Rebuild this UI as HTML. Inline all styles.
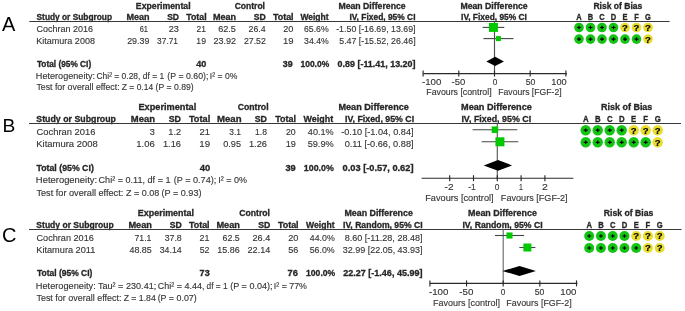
<!DOCTYPE html>
<html><head><meta charset="utf-8"><style>
html,body{margin:0;padding:0;background:#fff;width:685px;height:311px;overflow:hidden}
svg{display:block;font-family:"Liberation Sans", sans-serif;will-change:transform;filter:blur(0.3px)}
</style></head><body>
<svg width="685" height="311" viewBox="0 0 685 311" shape-rendering="auto">
<rect width="685" height="311" fill="#fff"/>
<text x="1.90" y="30.60" font-size="20" fill="#000">A</text>
<text x="135.83" y="9.00" font-size="8.8" font-weight="bold" textLength="54.74" lengthAdjust="spacingAndGlyphs" fill="#262626" stroke="#262626" stroke-width="0.3">Experimental</text>
<text x="234.66" y="9.00" font-size="8.8" font-weight="bold" textLength="30.34" lengthAdjust="spacingAndGlyphs" fill="#262626" stroke="#262626" stroke-width="0.3">Control</text>
<text x="338.43" y="9.00" font-size="8.8" font-weight="bold" textLength="67.23" lengthAdjust="spacingAndGlyphs" fill="#262626" stroke="#262626" stroke-width="0.3">Mean Difference</text>
<text x="460.43" y="9.00" font-size="8.8" font-weight="bold" textLength="67.23" lengthAdjust="spacingAndGlyphs" fill="#262626" stroke="#262626" stroke-width="0.3">Mean Difference</text>
<text x="593.44" y="9.00" font-size="8.8" font-weight="bold" textLength="48.89" lengthAdjust="spacingAndGlyphs" fill="#262626" stroke="#262626" stroke-width="0.3">Risk of Bias</text>
<text x="36.55" y="20.00" font-size="8.8" font-weight="bold" textLength="75.48" lengthAdjust="spacingAndGlyphs" fill="#262626" stroke="#262626" stroke-width="0.3">Study or Subgroup</text>
<text x="126.41" y="20.00" font-size="8.8" font-weight="bold" textLength="23.14" lengthAdjust="spacingAndGlyphs" fill="#262626" stroke="#262626" stroke-width="0.3">Mean</text>
<text x="167.14" y="20.00" font-size="8.8" font-weight="bold" textLength="11.83" lengthAdjust="spacingAndGlyphs" fill="#262626" stroke="#262626" stroke-width="0.3">SD</text>
<text x="186.31" y="20.00" font-size="8.8" font-weight="bold" textLength="20.30" lengthAdjust="spacingAndGlyphs" fill="#262626" stroke="#262626" stroke-width="0.3">Total</text>
<text x="213.01" y="20.00" font-size="8.8" font-weight="bold" textLength="23.14" lengthAdjust="spacingAndGlyphs" fill="#262626" stroke="#262626" stroke-width="0.3">Mean</text>
<text x="253.74" y="20.00" font-size="8.8" font-weight="bold" textLength="12.04" lengthAdjust="spacingAndGlyphs" fill="#262626" stroke="#262626" stroke-width="0.3">SD</text>
<text x="272.91" y="20.00" font-size="8.8" font-weight="bold" textLength="20.71" lengthAdjust="spacingAndGlyphs" fill="#262626" stroke="#262626" stroke-width="0.3">Total</text>
<text x="300.40" y="20.00" font-size="8.8" font-weight="bold" textLength="28.12" lengthAdjust="spacingAndGlyphs" fill="#262626" stroke="#262626" stroke-width="0.3">Weight</text>
<text x="349.45" y="20.00" font-size="8.8" font-weight="bold" textLength="66.10" lengthAdjust="spacingAndGlyphs" fill="#262626" stroke="#262626" stroke-width="0.3">IV, Fixed, 95% CI</text>
<text x="461.05" y="20.00" font-size="8.8" font-weight="bold" textLength="65.89" lengthAdjust="spacingAndGlyphs" fill="#262626" stroke="#262626" stroke-width="0.3">IV, Fixed, 95% CI</text>
<text x="36.55" y="32.45" font-size="9.8" font-weight="normal" textLength="56.43" lengthAdjust="spacingAndGlyphs" fill="#353535" stroke="#353535" stroke-width="0.14">Cochran 2016</text>
<text x="139.63" y="32.45" font-size="9.8" font-weight="normal" textLength="8.33" lengthAdjust="spacingAndGlyphs" fill="#353535" stroke="#353535" stroke-width="0.14">61</text>
<text x="168.74" y="32.45" font-size="9.8" font-weight="normal" textLength="10.25" lengthAdjust="spacingAndGlyphs" fill="#353535" stroke="#353535" stroke-width="0.14">23</text>
<text x="196.58" y="32.45" font-size="9.8" font-weight="normal" textLength="9.42" lengthAdjust="spacingAndGlyphs" fill="#353535" stroke="#353535" stroke-width="0.14">21</text>
<text x="218.14" y="32.45" font-size="9.8" font-weight="normal" textLength="17.84" lengthAdjust="spacingAndGlyphs" fill="#353535" stroke="#353535" stroke-width="0.14">62.5</text>
<text x="248.56" y="32.45" font-size="9.8" font-weight="normal" textLength="17.07" lengthAdjust="spacingAndGlyphs" fill="#353535" stroke="#353535" stroke-width="0.14">26.4</text>
<text x="283.14" y="32.45" font-size="9.8" font-weight="normal" textLength="10.20" lengthAdjust="spacingAndGlyphs" fill="#353535" stroke="#353535" stroke-width="0.14">20</text>
<text x="303.96" y="32.45" font-size="9.8" font-weight="normal" textLength="24.75" lengthAdjust="spacingAndGlyphs" fill="#353535" stroke="#353535" stroke-width="0.14">65.6%</text>
<text x="336.20" y="32.45" font-size="9.8" font-weight="normal" textLength="79.38" lengthAdjust="spacingAndGlyphs" fill="#353535" stroke="#353535" stroke-width="0.14">-1.50 [-16.69, 13.69]</text>
<text x="36.28" y="44.05" font-size="9.8" font-weight="normal" textLength="58.67" lengthAdjust="spacingAndGlyphs" fill="#353535" stroke="#353535" stroke-width="0.14">Kitamura 2008</text>
<text x="127.16" y="44.05" font-size="9.8" font-weight="normal" textLength="22.27" lengthAdjust="spacingAndGlyphs" fill="#353535" stroke="#353535" stroke-width="0.14">29.39</text>
<text x="157.11" y="44.05" font-size="9.8" font-weight="normal" textLength="20.89" lengthAdjust="spacingAndGlyphs" fill="#353535" stroke="#353535" stroke-width="0.14">37.71</text>
<text x="196.35" y="44.05" font-size="9.8" font-weight="normal" textLength="9.66" lengthAdjust="spacingAndGlyphs" fill="#353535" stroke="#353535" stroke-width="0.14">19</text>
<text x="213.55" y="44.05" font-size="9.8" font-weight="normal" textLength="22.52" lengthAdjust="spacingAndGlyphs" fill="#353535" stroke="#353535" stroke-width="0.14">23.92</text>
<text x="243.96" y="44.05" font-size="9.8" font-weight="normal" textLength="21.90" lengthAdjust="spacingAndGlyphs" fill="#353535" stroke="#353535" stroke-width="0.14">27.52</text>
<text x="282.89" y="44.05" font-size="9.8" font-weight="normal" textLength="10.56" lengthAdjust="spacingAndGlyphs" fill="#353535" stroke="#353535" stroke-width="0.14">19</text>
<text x="304.10" y="44.05" font-size="9.8" font-weight="normal" textLength="24.61" lengthAdjust="spacingAndGlyphs" fill="#353535" stroke="#353535" stroke-width="0.14">34.4%</text>
<text x="339.25" y="44.05" font-size="9.8" font-weight="normal" textLength="76.35" lengthAdjust="spacingAndGlyphs" fill="#353535" stroke="#353535" stroke-width="0.14">5.47 [-15.52, 26.46]</text>
<text x="36.92" y="66.70" font-size="8.8" font-weight="bold" textLength="54.28" lengthAdjust="spacingAndGlyphs" fill="#262626" stroke="#262626" stroke-width="0.3">Total (95% CI)</text>
<text x="196.26" y="66.70" font-size="8.8" font-weight="bold" textLength="10.12" lengthAdjust="spacingAndGlyphs" fill="#262626" stroke="#262626" stroke-width="0.3">40</text>
<text x="282.82" y="66.70" font-size="8.8" font-weight="bold" textLength="9.91" lengthAdjust="spacingAndGlyphs" fill="#262626" stroke="#262626" stroke-width="0.3">39</text>
<text x="300.49" y="66.70" font-size="8.8" font-weight="bold" textLength="28.69" lengthAdjust="spacingAndGlyphs" fill="#262626" stroke="#262626" stroke-width="0.3">100.0%</text>
<text x="337.64" y="66.70" font-size="8.8" font-weight="bold" textLength="77.84" lengthAdjust="spacingAndGlyphs" fill="#262626" stroke="#262626" stroke-width="0.3">0.89 [-11.41, 13.20]</text>
<text x="35.87" y="78.90" font-size="9.8" font-weight="normal" textLength="59.14" lengthAdjust="spacingAndGlyphs" fill="#353535" stroke="#353535" stroke-width="0.14">Heterogeneity:</text>
<text x="96.48" y="78.90" font-size="9.8" font-weight="normal" textLength="67.70" lengthAdjust="spacingAndGlyphs" fill="#353535" stroke="#353535" stroke-width="0.14">Chi² = 0.28, df = 1</text>
<text x="167.37" y="78.90" font-size="9.8" font-weight="normal" textLength="41.00" lengthAdjust="spacingAndGlyphs" fill="#353535" stroke="#353535" stroke-width="0.14">(P = 0.60);</text>
<text x="209.83" y="78.90" font-size="9.8" font-weight="normal" textLength="27.48" lengthAdjust="spacingAndGlyphs" fill="#353535" stroke="#353535" stroke-width="0.14">I² = 0%</text>
<text x="36.42" y="90.30" font-size="9.8" font-weight="normal" textLength="83.23" lengthAdjust="spacingAndGlyphs" fill="#353535" stroke="#353535" stroke-width="0.14">Test for overall effect:</text>
<text x="121.85" y="90.30" font-size="9.8" font-weight="normal" textLength="31.28" lengthAdjust="spacingAndGlyphs" fill="#353535" stroke="#353535" stroke-width="0.14">Z = 0.14</text>
<text x="155.58" y="90.30" font-size="9.8" font-weight="normal" textLength="38.15" lengthAdjust="spacingAndGlyphs" fill="#353535" stroke="#353535" stroke-width="0.14">(P = 0.89)</text>
<text x="421.96" y="84.60" font-size="9.8" font-weight="normal" textLength="19.39" lengthAdjust="spacingAndGlyphs" fill="#353535" stroke="#353535" stroke-width="0.14">-100</text>
<text x="451.57" y="84.60" font-size="9.8" font-weight="normal" textLength="13.77" lengthAdjust="spacingAndGlyphs" fill="#353535" stroke="#353535" stroke-width="0.14">-50</text>
<text x="492.67" y="84.60" font-size="9.8" font-weight="normal" textLength="4.63" lengthAdjust="spacingAndGlyphs" fill="#353535" stroke="#353535" stroke-width="0.14">0</text>
<text x="525.65" y="84.60" font-size="9.8" font-weight="normal" textLength="9.67" lengthAdjust="spacingAndGlyphs" fill="#353535" stroke="#353535" stroke-width="0.14">50</text>
<text x="551.31" y="84.60" font-size="9.8" font-weight="normal" textLength="15.45" lengthAdjust="spacingAndGlyphs" fill="#353535" stroke="#353535" stroke-width="0.14">100</text>
<text x="426.30" y="95.40" font-size="9.8" font-weight="normal" textLength="65.29" lengthAdjust="spacingAndGlyphs" fill="#353535" stroke="#353535" stroke-width="0.14">Favours [control]</text>
<text x="498.31" y="95.40" font-size="9.8" font-weight="normal" textLength="63.29" lengthAdjust="spacingAndGlyphs" fill="#353535" stroke="#353535" stroke-width="0.14">Favours [FGF-2]</text>
<line x1="29.30" y1="21.40" x2="669.60" y2="21.40" stroke="#383838" stroke-width="1.05"/>
<line x1="494.50" y1="21.40" x2="494.50" y2="73.60" stroke="#505050" stroke-width="1.15"/>
<line x1="423.20" y1="73.60" x2="567.00" y2="73.60" stroke="#2a2a2a" stroke-width="1.15"/>
<line x1="423.10" y1="70.60" x2="423.10" y2="76.60" stroke="#2a2a2a" stroke-width="1.15"/>
<line x1="458.80" y1="70.60" x2="458.80" y2="76.60" stroke="#2a2a2a" stroke-width="1.15"/>
<line x1="494.50" y1="70.60" x2="494.50" y2="76.60" stroke="#2a2a2a" stroke-width="1.15"/>
<line x1="530.20" y1="70.60" x2="530.20" y2="76.60" stroke="#2a2a2a" stroke-width="1.15"/>
<line x1="565.90" y1="70.60" x2="565.90" y2="76.60" stroke="#2a2a2a" stroke-width="1.15"/>
<line x1="482.58" y1="27.40" x2="504.27" y2="27.40" stroke="#444" stroke-width="1.1"/>
<rect x="488.93" y="22.90" width="9.00" height="9.00" fill="#00c800"/>
<line x1="483.42" y1="38.60" x2="513.39" y2="38.60" stroke="#444" stroke-width="1.1"/>
<rect x="495.91" y="36.10" width="5.00" height="5.00" fill="#00c800"/>
<polygon points="486.35,61.40 495.14,56.80 503.92,61.40 495.14,66.00" fill="#000"/>
<circle cx="579.00" cy="27.50" r="4.80" fill="#14c414"/>
<path d="M577.00,27.50H581.00M579.00,25.70V29.30" stroke="#000" stroke-width="1.2"/>
<circle cx="590.50" cy="27.50" r="4.80" fill="#14c414"/>
<path d="M588.50,27.50H592.50M590.50,25.70V29.30" stroke="#000" stroke-width="1.2"/>
<circle cx="602.00" cy="27.50" r="4.80" fill="#14c414"/>
<path d="M600.00,27.50H604.00M602.00,25.70V29.30" stroke="#000" stroke-width="1.2"/>
<circle cx="613.50" cy="27.50" r="4.80" fill="#14c414"/>
<path d="M611.50,27.50H615.50M613.50,25.70V29.30" stroke="#000" stroke-width="1.2"/>
<circle cx="625.00" cy="27.50" r="4.80" fill="#e8dc2c"/>
<text x="625.00" y="30.90" font-size="9.5" font-weight="bold" text-anchor="middle" fill="#000" stroke="#000" stroke-width="0.2">?</text>
<circle cx="636.50" cy="27.50" r="4.80" fill="#e8dc2c"/>
<text x="636.50" y="30.90" font-size="9.5" font-weight="bold" text-anchor="middle" fill="#000" stroke="#000" stroke-width="0.2">?</text>
<circle cx="648.00" cy="27.50" r="4.80" fill="#e8dc2c"/>
<text x="648.00" y="30.90" font-size="9.5" font-weight="bold" text-anchor="middle" fill="#000" stroke="#000" stroke-width="0.2">?</text>
<circle cx="579.00" cy="39.10" r="4.80" fill="#14c414"/>
<path d="M577.00,39.10H581.00M579.00,37.30V40.90" stroke="#000" stroke-width="1.2"/>
<circle cx="590.50" cy="39.10" r="4.80" fill="#14c414"/>
<path d="M588.50,39.10H592.50M590.50,37.30V40.90" stroke="#000" stroke-width="1.2"/>
<circle cx="602.00" cy="39.10" r="4.80" fill="#14c414"/>
<path d="M600.00,39.10H604.00M602.00,37.30V40.90" stroke="#000" stroke-width="1.2"/>
<circle cx="613.50" cy="39.10" r="4.80" fill="#14c414"/>
<path d="M611.50,39.10H615.50M613.50,37.30V40.90" stroke="#000" stroke-width="1.2"/>
<circle cx="625.00" cy="39.10" r="4.80" fill="#14c414"/>
<path d="M623.00,39.10H627.00M625.00,37.30V40.90" stroke="#000" stroke-width="1.2"/>
<circle cx="636.50" cy="39.10" r="4.80" fill="#14c414"/>
<path d="M634.50,39.10H638.50M636.50,37.30V40.90" stroke="#000" stroke-width="1.2"/>
<circle cx="648.00" cy="39.10" r="4.80" fill="#e8dc2c"/>
<text x="648.00" y="42.50" font-size="9.5" font-weight="bold" text-anchor="middle" fill="#000" stroke="#000" stroke-width="0.2">?</text>
<text x="579.00" y="20.00" font-size="8.8" font-weight="bold" text-anchor="middle" textLength="5.40" lengthAdjust="spacingAndGlyphs" fill="#262626" stroke="#262626" stroke-width="0.3">A</text>
<text x="590.50" y="20.00" font-size="8.8" font-weight="bold" text-anchor="middle" textLength="5.40" lengthAdjust="spacingAndGlyphs" fill="#262626" stroke="#262626" stroke-width="0.3">B</text>
<text x="602.00" y="20.00" font-size="8.8" font-weight="bold" text-anchor="middle" textLength="5.40" lengthAdjust="spacingAndGlyphs" fill="#262626" stroke="#262626" stroke-width="0.3">C</text>
<text x="613.50" y="20.00" font-size="8.8" font-weight="bold" text-anchor="middle" textLength="5.40" lengthAdjust="spacingAndGlyphs" fill="#262626" stroke="#262626" stroke-width="0.3">D</text>
<text x="625.00" y="20.00" font-size="8.8" font-weight="bold" text-anchor="middle" textLength="4.99" lengthAdjust="spacingAndGlyphs" fill="#262626" stroke="#262626" stroke-width="0.3">E</text>
<text x="636.50" y="20.00" font-size="8.8" font-weight="bold" text-anchor="middle" textLength="4.57" lengthAdjust="spacingAndGlyphs" fill="#262626" stroke="#262626" stroke-width="0.3">F</text>
<text x="648.00" y="20.00" font-size="8.8" font-weight="bold" text-anchor="middle" textLength="5.82" lengthAdjust="spacingAndGlyphs" fill="#262626" stroke="#262626" stroke-width="0.3">G</text>
<text x="2.60" y="131.80" font-size="19.2" fill="#000">B</text>
<text x="138.40" y="110.00" font-size="9.2" font-weight="bold" textLength="57.80" lengthAdjust="spacingAndGlyphs" fill="#262626" stroke="#262626" stroke-width="0.3">Experimental</text>
<text x="237.65" y="110.00" font-size="9.2" font-weight="bold" textLength="30.96" lengthAdjust="spacingAndGlyphs" fill="#262626" stroke="#262626" stroke-width="0.3">Control</text>
<text x="338.41" y="110.00" font-size="9.2" font-weight="bold" textLength="70.47" lengthAdjust="spacingAndGlyphs" fill="#262626" stroke="#262626" stroke-width="0.3">Mean Difference</text>
<text x="461.00" y="110.00" font-size="9.2" font-weight="bold" textLength="70.87" lengthAdjust="spacingAndGlyphs" fill="#262626" stroke="#262626" stroke-width="0.3">Mean Difference</text>
<text x="601.02" y="110.40" font-size="9.2" font-weight="bold" textLength="51.33" lengthAdjust="spacingAndGlyphs" fill="#262626" stroke="#262626" stroke-width="0.3">Risk of Bias</text>
<text x="36.34" y="122.00" font-size="9.2" font-weight="bold" textLength="79.61" lengthAdjust="spacingAndGlyphs" fill="#262626" stroke="#262626" stroke-width="0.3">Study or Subgroup</text>
<text x="130.78" y="122.00" font-size="9.2" font-weight="bold" textLength="24.19" lengthAdjust="spacingAndGlyphs" fill="#262626" stroke="#262626" stroke-width="0.3">Mean</text>
<text x="168.74" y="122.00" font-size="9.2" font-weight="bold" textLength="12.25" lengthAdjust="spacingAndGlyphs" fill="#262626" stroke="#262626" stroke-width="0.3">SD</text>
<text x="188.91" y="122.00" font-size="9.2" font-weight="bold" textLength="21.33" lengthAdjust="spacingAndGlyphs" fill="#262626" stroke="#262626" stroke-width="0.3">Total</text>
<text x="216.97" y="122.00" font-size="9.2" font-weight="bold" textLength="24.62" lengthAdjust="spacingAndGlyphs" fill="#262626" stroke="#262626" stroke-width="0.3">Mean</text>
<text x="254.74" y="122.00" font-size="9.2" font-weight="bold" textLength="12.25" lengthAdjust="spacingAndGlyphs" fill="#262626" stroke="#262626" stroke-width="0.3">SD</text>
<text x="275.31" y="122.00" font-size="9.2" font-weight="bold" textLength="20.71" lengthAdjust="spacingAndGlyphs" fill="#262626" stroke="#262626" stroke-width="0.3">Total</text>
<text x="303.60" y="122.00" font-size="9.2" font-weight="bold" textLength="29.53" lengthAdjust="spacingAndGlyphs" fill="#262626" stroke="#262626" stroke-width="0.3">Weight</text>
<text x="345.03" y="122.00" font-size="9.2" font-weight="bold" textLength="69.15" lengthAdjust="spacingAndGlyphs" fill="#262626" stroke="#262626" stroke-width="0.3">IV, Fixed, 95% CI</text>
<text x="461.42" y="122.00" font-size="9.2" font-weight="bold" textLength="69.76" lengthAdjust="spacingAndGlyphs" fill="#262626" stroke="#262626" stroke-width="0.3">IV, Fixed, 95% CI</text>
<text x="36.53" y="135.40" font-size="9.8" font-weight="normal" textLength="58.87" lengthAdjust="spacingAndGlyphs" fill="#353535" stroke="#353535" stroke-width="0.14">Cochran 2016</text>
<text x="149.68" y="135.40" font-size="9.8" font-weight="normal" textLength="5.10" lengthAdjust="spacingAndGlyphs" fill="#353535" stroke="#353535" stroke-width="0.14">3</text>
<text x="168.31" y="135.40" font-size="9.8" font-weight="normal" textLength="12.75" lengthAdjust="spacingAndGlyphs" fill="#353535" stroke="#353535" stroke-width="0.14">1.2</text>
<text x="199.53" y="135.40" font-size="9.8" font-weight="normal" textLength="10.52" lengthAdjust="spacingAndGlyphs" fill="#353535" stroke="#353535" stroke-width="0.14">21</text>
<text x="229.31" y="135.40" font-size="9.8" font-weight="normal" textLength="11.67" lengthAdjust="spacingAndGlyphs" fill="#353535" stroke="#353535" stroke-width="0.14">3.1</text>
<text x="254.95" y="135.40" font-size="9.8" font-weight="normal" textLength="11.99" lengthAdjust="spacingAndGlyphs" fill="#353535" stroke="#353535" stroke-width="0.14">1.8</text>
<text x="285.96" y="135.40" font-size="9.8" font-weight="normal" textLength="9.77" lengthAdjust="spacingAndGlyphs" fill="#353535" stroke="#353535" stroke-width="0.14">20</text>
<text x="307.82" y="135.40" font-size="9.8" font-weight="normal" textLength="25.91" lengthAdjust="spacingAndGlyphs" fill="#353535" stroke="#353535" stroke-width="0.14">40.1%</text>
<text x="341.19" y="135.40" font-size="9.8" font-weight="normal" textLength="72.45" lengthAdjust="spacingAndGlyphs" fill="#353535" stroke="#353535" stroke-width="0.14">-0.10 [-1.04, 0.84]</text>
<text x="36.24" y="147.40" font-size="9.8" font-weight="normal" textLength="61.53" lengthAdjust="spacingAndGlyphs" fill="#353535" stroke="#353535" stroke-width="0.14">Kitamura 2008</text>
<text x="136.29" y="147.40" font-size="9.8" font-weight="normal" textLength="18.51" lengthAdjust="spacingAndGlyphs" fill="#353535" stroke="#353535" stroke-width="0.14">1.06</text>
<text x="162.90" y="147.40" font-size="9.8" font-weight="normal" textLength="18.08" lengthAdjust="spacingAndGlyphs" fill="#353535" stroke="#353535" stroke-width="0.14">1.16</text>
<text x="199.27" y="147.40" font-size="9.8" font-weight="normal" textLength="10.79" lengthAdjust="spacingAndGlyphs" fill="#353535" stroke="#353535" stroke-width="0.14">19</text>
<text x="223.24" y="147.40" font-size="9.8" font-weight="normal" textLength="17.74" lengthAdjust="spacingAndGlyphs" fill="#353535" stroke="#353535" stroke-width="0.14">0.95</text>
<text x="248.90" y="147.40" font-size="9.8" font-weight="normal" textLength="18.08" lengthAdjust="spacingAndGlyphs" fill="#353535" stroke="#353535" stroke-width="0.14">1.26</text>
<text x="285.72" y="147.40" font-size="9.8" font-weight="normal" textLength="10.11" lengthAdjust="spacingAndGlyphs" fill="#353535" stroke="#353535" stroke-width="0.14">19</text>
<text x="307.63" y="147.40" font-size="9.8" font-weight="normal" textLength="26.09" lengthAdjust="spacingAndGlyphs" fill="#353535" stroke="#353535" stroke-width="0.14">59.9%</text>
<text x="344.63" y="147.40" font-size="9.8" font-weight="normal" textLength="68.98" lengthAdjust="spacingAndGlyphs" fill="#353535" stroke="#353535" stroke-width="0.14">0.11 [-0.66, 0.88]</text>
<text x="36.51" y="170.60" font-size="9.2" font-weight="bold" textLength="57.31" lengthAdjust="spacingAndGlyphs" fill="#262626" stroke="#262626" stroke-width="0.3">Total (95% CI)</text>
<text x="199.86" y="170.60" font-size="9.2" font-weight="bold" textLength="10.54" lengthAdjust="spacingAndGlyphs" fill="#262626" stroke="#262626" stroke-width="0.3">40</text>
<text x="285.41" y="170.60" font-size="9.2" font-weight="bold" textLength="10.33" lengthAdjust="spacingAndGlyphs" fill="#262626" stroke="#262626" stroke-width="0.3">39</text>
<text x="303.87" y="170.60" font-size="9.2" font-weight="bold" textLength="29.92" lengthAdjust="spacingAndGlyphs" fill="#262626" stroke="#262626" stroke-width="0.3">100.0%</text>
<text x="342.63" y="170.60" font-size="9.2" font-weight="bold" textLength="70.85" lengthAdjust="spacingAndGlyphs" fill="#262626" stroke="#262626" stroke-width="0.3">0.03 [-0.57, 0.62]</text>
<text x="35.85" y="183.40" font-size="9.8" font-weight="normal" textLength="61.29" lengthAdjust="spacingAndGlyphs" fill="#353535" stroke="#353535" stroke-width="0.14">Heterogeneity:</text>
<text x="98.55" y="183.40" font-size="9.8" font-weight="normal" textLength="71.97" lengthAdjust="spacingAndGlyphs" fill="#353535" stroke="#353535" stroke-width="0.14">Chi² = 0.11, df = 1</text>
<text x="173.65" y="183.40" font-size="9.8" font-weight="normal" textLength="42.66" lengthAdjust="spacingAndGlyphs" fill="#353535" stroke="#353535" stroke-width="0.14">(P = 0.74);</text>
<text x="218.29" y="183.40" font-size="9.8" font-weight="normal" textLength="28.73" lengthAdjust="spacingAndGlyphs" fill="#353535" stroke="#353535" stroke-width="0.14">I² = 0%</text>
<text x="36.42" y="195.60" font-size="9.8" font-weight="normal" textLength="86.87" lengthAdjust="spacingAndGlyphs" fill="#353535" stroke="#353535" stroke-width="0.14">Test for overall effect:</text>
<text x="125.93" y="195.60" font-size="9.8" font-weight="normal" textLength="33.25" lengthAdjust="spacingAndGlyphs" fill="#353535" stroke="#353535" stroke-width="0.14">Z = 0.08</text>
<text x="161.45" y="195.60" font-size="9.8" font-weight="normal" textLength="40.10" lengthAdjust="spacingAndGlyphs" fill="#353535" stroke="#353535" stroke-width="0.14">(P = 0.93)</text>
<text x="444.55" y="190.10" font-size="9.8" font-weight="normal" textLength="8.95" lengthAdjust="spacingAndGlyphs" fill="#353535" stroke="#353535" stroke-width="0.14">-2</text>
<text x="468.22" y="190.10" font-size="9.8" font-weight="normal" textLength="7.56" lengthAdjust="spacingAndGlyphs" fill="#353535" stroke="#353535" stroke-width="0.14">-1</text>
<text x="494.67" y="190.10" font-size="9.8" font-weight="normal" textLength="4.63" lengthAdjust="spacingAndGlyphs" fill="#353535" stroke="#353535" stroke-width="0.14">0</text>
<text x="518.88" y="190.10" font-size="9.8" font-weight="normal" textLength="3.84" lengthAdjust="spacingAndGlyphs" fill="#353535" stroke="#353535" stroke-width="0.14">1</text>
<text x="542.07" y="190.10" font-size="9.8" font-weight="normal" textLength="5.87" lengthAdjust="spacingAndGlyphs" fill="#353535" stroke="#353535" stroke-width="0.14">2</text>
<text x="425.27" y="201.40" font-size="9.8" font-weight="normal" textLength="68.35" lengthAdjust="spacingAndGlyphs" fill="#353535" stroke="#353535" stroke-width="0.14">Favours [control]</text>
<text x="500.87" y="201.40" font-size="9.8" font-weight="normal" textLength="66.76" lengthAdjust="spacingAndGlyphs" fill="#353535" stroke="#353535" stroke-width="0.14">Favours [FGF-2]</text>
<line x1="29.00" y1="123.40" x2="681.00" y2="123.40" stroke="#383838" stroke-width="1.05"/>
<line x1="497.30" y1="123.40" x2="497.30" y2="178.20" stroke="#5a5a5a" stroke-width="1.15"/>
<line x1="421.60" y1="178.20" x2="573.40" y2="178.20" stroke="#2a2a2a" stroke-width="1.15"/>
<line x1="449.70" y1="175.20" x2="449.70" y2="181.20" stroke="#2a2a2a" stroke-width="1.15"/>
<line x1="473.50" y1="175.20" x2="473.50" y2="181.20" stroke="#2a2a2a" stroke-width="1.15"/>
<line x1="497.30" y1="175.20" x2="497.30" y2="181.20" stroke="#2a2a2a" stroke-width="1.15"/>
<line x1="521.10" y1="175.20" x2="521.10" y2="181.20" stroke="#2a2a2a" stroke-width="1.15"/>
<line x1="544.90" y1="175.20" x2="544.90" y2="181.20" stroke="#2a2a2a" stroke-width="1.15"/>
<line x1="472.55" y1="129.70" x2="517.29" y2="129.70" stroke="#444" stroke-width="1.1"/>
<rect x="491.67" y="126.45" width="6.50" height="6.50" fill="#00c800"/>
<line x1="481.59" y1="141.80" x2="518.24" y2="141.80" stroke="#444" stroke-width="1.1"/>
<rect x="495.42" y="137.30" width="9.00" height="9.00" fill="#00c800"/>
<polygon points="483.73,165.40 498.01,160.10 512.06,165.40 498.01,170.70" fill="#000"/>
<circle cx="585.70" cy="130.20" r="5.20" fill="#14c414"/>
<path d="M583.70,130.20H587.70M585.70,128.40V132.00" stroke="#000" stroke-width="1.2"/>
<circle cx="597.70" cy="130.20" r="5.20" fill="#14c414"/>
<path d="M595.70,130.20H599.70M597.70,128.40V132.00" stroke="#000" stroke-width="1.2"/>
<circle cx="609.70" cy="130.20" r="5.20" fill="#14c414"/>
<path d="M607.70,130.20H611.70M609.70,128.40V132.00" stroke="#000" stroke-width="1.2"/>
<circle cx="621.70" cy="130.20" r="5.20" fill="#14c414"/>
<path d="M619.70,130.20H623.70M621.70,128.40V132.00" stroke="#000" stroke-width="1.2"/>
<circle cx="633.70" cy="130.20" r="5.20" fill="#e8dc2c"/>
<text x="633.70" y="133.60" font-size="9.5" font-weight="bold" text-anchor="middle" fill="#000" stroke="#000" stroke-width="0.2">?</text>
<circle cx="645.70" cy="130.20" r="5.20" fill="#e8dc2c"/>
<text x="645.70" y="133.60" font-size="9.5" font-weight="bold" text-anchor="middle" fill="#000" stroke="#000" stroke-width="0.2">?</text>
<circle cx="657.70" cy="130.20" r="5.20" fill="#e8dc2c"/>
<text x="657.70" y="133.60" font-size="9.5" font-weight="bold" text-anchor="middle" fill="#000" stroke="#000" stroke-width="0.2">?</text>
<circle cx="585.70" cy="142.30" r="5.20" fill="#14c414"/>
<path d="M583.70,142.30H587.70M585.70,140.50V144.10" stroke="#000" stroke-width="1.2"/>
<circle cx="597.70" cy="142.30" r="5.20" fill="#14c414"/>
<path d="M595.70,142.30H599.70M597.70,140.50V144.10" stroke="#000" stroke-width="1.2"/>
<circle cx="609.70" cy="142.30" r="5.20" fill="#14c414"/>
<path d="M607.70,142.30H611.70M609.70,140.50V144.10" stroke="#000" stroke-width="1.2"/>
<circle cx="621.70" cy="142.30" r="5.20" fill="#14c414"/>
<path d="M619.70,142.30H623.70M621.70,140.50V144.10" stroke="#000" stroke-width="1.2"/>
<circle cx="633.70" cy="142.30" r="5.20" fill="#14c414"/>
<path d="M631.70,142.30H635.70M633.70,140.50V144.10" stroke="#000" stroke-width="1.2"/>
<circle cx="645.70" cy="142.30" r="5.20" fill="#14c414"/>
<path d="M643.70,142.30H647.70M645.70,140.50V144.10" stroke="#000" stroke-width="1.2"/>
<circle cx="657.70" cy="142.30" r="5.20" fill="#e8dc2c"/>
<text x="657.70" y="145.70" font-size="9.5" font-weight="bold" text-anchor="middle" fill="#000" stroke="#000" stroke-width="0.2">?</text>
<text x="585.70" y="122.00" font-size="9.2" font-weight="bold" text-anchor="middle" textLength="5.65" lengthAdjust="spacingAndGlyphs" fill="#262626" stroke="#262626" stroke-width="0.3">A</text>
<text x="597.70" y="122.00" font-size="9.2" font-weight="bold" text-anchor="middle" textLength="5.65" lengthAdjust="spacingAndGlyphs" fill="#262626" stroke="#262626" stroke-width="0.3">B</text>
<text x="609.70" y="122.00" font-size="9.2" font-weight="bold" text-anchor="middle" textLength="5.65" lengthAdjust="spacingAndGlyphs" fill="#262626" stroke="#262626" stroke-width="0.3">C</text>
<text x="621.70" y="122.00" font-size="9.2" font-weight="bold" text-anchor="middle" textLength="5.65" lengthAdjust="spacingAndGlyphs" fill="#262626" stroke="#262626" stroke-width="0.3">D</text>
<text x="633.70" y="122.00" font-size="9.2" font-weight="bold" text-anchor="middle" textLength="5.22" lengthAdjust="spacingAndGlyphs" fill="#262626" stroke="#262626" stroke-width="0.3">E</text>
<text x="645.70" y="122.00" font-size="9.2" font-weight="bold" text-anchor="middle" textLength="4.78" lengthAdjust="spacingAndGlyphs" fill="#262626" stroke="#262626" stroke-width="0.3">F</text>
<text x="657.70" y="122.00" font-size="9.2" font-weight="bold" text-anchor="middle" textLength="6.08" lengthAdjust="spacingAndGlyphs" fill="#262626" stroke="#262626" stroke-width="0.3">G</text>
<text x="2.10" y="241.60" font-size="20" fill="#000">C</text>
<text x="137.82" y="216.00" font-size="9" font-weight="bold" textLength="56.17" lengthAdjust="spacingAndGlyphs" fill="#262626" stroke="#262626" stroke-width="0.3">Experimental</text>
<text x="239.25" y="216.00" font-size="9" font-weight="bold" textLength="30.75" lengthAdjust="spacingAndGlyphs" fill="#262626" stroke="#262626" stroke-width="0.3">Control</text>
<text x="344.42" y="216.00" font-size="9" font-weight="bold" textLength="68.44" lengthAdjust="spacingAndGlyphs" fill="#262626" stroke="#262626" stroke-width="0.3">Mean Difference</text>
<text x="468.02" y="216.00" font-size="9" font-weight="bold" textLength="68.85" lengthAdjust="spacingAndGlyphs" fill="#262626" stroke="#262626" stroke-width="0.3">Mean Difference</text>
<text x="603.84" y="216.40" font-size="9" font-weight="bold" textLength="49.50" lengthAdjust="spacingAndGlyphs" fill="#262626" stroke="#262626" stroke-width="0.3">Risk of Bias</text>
<text x="36.34" y="227.60" font-size="9" font-weight="bold" textLength="77.40" lengthAdjust="spacingAndGlyphs" fill="#262626" stroke="#262626" stroke-width="0.3">Study or Subgroup</text>
<text x="128.40" y="227.60" font-size="9" font-weight="bold" textLength="23.56" lengthAdjust="spacingAndGlyphs" fill="#262626" stroke="#262626" stroke-width="0.3">Mean</text>
<text x="169.74" y="227.60" font-size="9" font-weight="bold" textLength="12.04" lengthAdjust="spacingAndGlyphs" fill="#262626" stroke="#262626" stroke-width="0.3">SD</text>
<text x="188.91" y="227.60" font-size="9" font-weight="bold" textLength="20.71" lengthAdjust="spacingAndGlyphs" fill="#262626" stroke="#262626" stroke-width="0.3">Total</text>
<text x="216.40" y="227.60" font-size="9" font-weight="bold" textLength="23.56" lengthAdjust="spacingAndGlyphs" fill="#262626" stroke="#262626" stroke-width="0.3">Mean</text>
<text x="258.34" y="227.60" font-size="9" font-weight="bold" textLength="12.04" lengthAdjust="spacingAndGlyphs" fill="#262626" stroke="#262626" stroke-width="0.3">SD</text>
<text x="277.91" y="227.60" font-size="9" font-weight="bold" textLength="20.71" lengthAdjust="spacingAndGlyphs" fill="#262626" stroke="#262626" stroke-width="0.3">Total</text>
<text x="306.00" y="227.60" font-size="9" font-weight="bold" textLength="28.53" lengthAdjust="spacingAndGlyphs" fill="#262626" stroke="#262626" stroke-width="0.3">Weight</text>
<text x="343.04" y="227.60" font-size="9" font-weight="bold" textLength="79.55" lengthAdjust="spacingAndGlyphs" fill="#262626" stroke="#262626" stroke-width="0.3">IV, Random, 95% CI</text>
<text x="462.44" y="227.60" font-size="9" font-weight="bold" textLength="80.16" lengthAdjust="spacingAndGlyphs" fill="#262626" stroke="#262626" stroke-width="0.3">IV, Random, 95% CI</text>
<text x="36.54" y="241.00" font-size="9.9" font-weight="normal" textLength="57.24" lengthAdjust="spacingAndGlyphs" fill="#353535" stroke="#353535" stroke-width="0.14">Cochran 2016</text>
<text x="134.57" y="241.00" font-size="9.9" font-weight="normal" textLength="16.83" lengthAdjust="spacingAndGlyphs" fill="#353535" stroke="#353535" stroke-width="0.14">71.1</text>
<text x="164.69" y="241.00" font-size="9.9" font-weight="normal" textLength="17.07" lengthAdjust="spacingAndGlyphs" fill="#353535" stroke="#353535" stroke-width="0.14">37.8</text>
<text x="199.56" y="241.00" font-size="9.9" font-weight="normal" textLength="9.86" lengthAdjust="spacingAndGlyphs" fill="#353535" stroke="#353535" stroke-width="0.14">21</text>
<text x="222.56" y="241.00" font-size="9.9" font-weight="normal" textLength="17.21" lengthAdjust="spacingAndGlyphs" fill="#353535" stroke="#353535" stroke-width="0.14">62.5</text>
<text x="252.55" y="241.00" font-size="9.9" font-weight="normal" textLength="17.69" lengthAdjust="spacingAndGlyphs" fill="#353535" stroke="#353535" stroke-width="0.14">26.4</text>
<text x="288.14" y="241.00" font-size="9.9" font-weight="normal" textLength="10.20" lengthAdjust="spacingAndGlyphs" fill="#353535" stroke="#353535" stroke-width="0.14">20</text>
<text x="309.82" y="241.00" font-size="9.9" font-weight="normal" textLength="24.89" lengthAdjust="spacingAndGlyphs" fill="#353535" stroke="#353535" stroke-width="0.14">44.0%</text>
<text x="344.64" y="241.00" font-size="9.9" font-weight="normal" textLength="77.99" lengthAdjust="spacingAndGlyphs" fill="#353535" stroke="#353535" stroke-width="0.14">8.60 [-11.28, 28.48]</text>
<text x="36.26" y="252.50" font-size="9.9" font-weight="normal" textLength="59.15" lengthAdjust="spacingAndGlyphs" fill="#353535" stroke="#353535" stroke-width="0.14">Kitamura 2011</text>
<text x="129.42" y="252.50" font-size="9.9" font-weight="normal" textLength="22.36" lengthAdjust="spacingAndGlyphs" fill="#353535" stroke="#353535" stroke-width="0.14">48.85</text>
<text x="159.69" y="252.50" font-size="9.9" font-weight="normal" textLength="21.95" lengthAdjust="spacingAndGlyphs" fill="#353535" stroke="#353535" stroke-width="0.14">34.14</text>
<text x="199.65" y="252.50" font-size="9.9" font-weight="normal" textLength="9.81" lengthAdjust="spacingAndGlyphs" fill="#353535" stroke="#353535" stroke-width="0.14">52</text>
<text x="217.33" y="252.50" font-size="9.9" font-weight="normal" textLength="22.45" lengthAdjust="spacingAndGlyphs" fill="#353535" stroke="#353535" stroke-width="0.14">15.86</text>
<text x="247.55" y="252.50" font-size="9.9" font-weight="normal" textLength="22.70" lengthAdjust="spacingAndGlyphs" fill="#353535" stroke="#353535" stroke-width="0.14">22.14</text>
<text x="288.23" y="252.50" font-size="9.9" font-weight="normal" textLength="10.15" lengthAdjust="spacingAndGlyphs" fill="#353535" stroke="#353535" stroke-width="0.14">56</text>
<text x="309.65" y="252.50" font-size="9.9" font-weight="normal" textLength="25.07" lengthAdjust="spacingAndGlyphs" fill="#353535" stroke="#353535" stroke-width="0.14">56.0%</text>
<text x="342.69" y="252.50" font-size="9.9" font-weight="normal" textLength="79.91" lengthAdjust="spacingAndGlyphs" fill="#353535" stroke="#353535" stroke-width="0.14">32.99 [22.05, 43.93]</text>
<text x="36.92" y="276.00" font-size="9" font-weight="bold" textLength="55.49" lengthAdjust="spacingAndGlyphs" fill="#262626" stroke="#262626" stroke-width="0.3">Total (95% CI)</text>
<text x="199.64" y="276.00" font-size="9" font-weight="bold" textLength="10.10" lengthAdjust="spacingAndGlyphs" fill="#262626" stroke="#262626" stroke-width="0.3">73</text>
<text x="287.63" y="276.00" font-size="9" font-weight="bold" textLength="10.32" lengthAdjust="spacingAndGlyphs" fill="#262626" stroke="#262626" stroke-width="0.3">76</text>
<text x="306.09" y="276.00" font-size="9" font-weight="bold" textLength="29.10" lengthAdjust="spacingAndGlyphs" fill="#262626" stroke="#262626" stroke-width="0.3">100.0%</text>
<text x="343.28" y="276.00" font-size="9" font-weight="bold" textLength="79.20" lengthAdjust="spacingAndGlyphs" fill="#262626" stroke="#262626" stroke-width="0.3">22.27 [-1.46, 45.99]</text>
<text x="35.86" y="288.60" font-size="9.9" font-weight="normal" textLength="59.86" lengthAdjust="spacingAndGlyphs" fill="#353535" stroke="#353535" stroke-width="0.14">Heterogeneity:</text>
<text x="97.92" y="288.60" font-size="9.9" font-weight="normal" textLength="58.37" lengthAdjust="spacingAndGlyphs" fill="#353535" stroke="#353535" stroke-width="0.14">Tau² = 230.41;</text>
<text x="157.75" y="288.60" font-size="9.9" font-weight="normal" textLength="46.74" lengthAdjust="spacingAndGlyphs" fill="#353535" stroke="#353535" stroke-width="0.14">Chi² = 4.44,</text>
<text x="206.57" y="288.60" font-size="9.9" font-weight="normal" textLength="21.00" lengthAdjust="spacingAndGlyphs" fill="#353535" stroke="#353535" stroke-width="0.14">df = 1</text>
<text x="230.26" y="288.60" font-size="9.9" font-weight="normal" textLength="42.24" lengthAdjust="spacingAndGlyphs" fill="#353535" stroke="#353535" stroke-width="0.14">(P = 0.04);</text>
<text x="273.81" y="288.60" font-size="9.9" font-weight="normal" textLength="33.08" lengthAdjust="spacingAndGlyphs" fill="#353535" stroke="#353535" stroke-width="0.14">I² = 77%</text>
<text x="36.42" y="300.60" font-size="9.9" font-weight="normal" textLength="85.05" lengthAdjust="spacingAndGlyphs" fill="#353535" stroke="#353535" stroke-width="0.14">Test for overall effect:</text>
<text x="123.64" y="300.60" font-size="9.9" font-weight="normal" textLength="32.09" lengthAdjust="spacingAndGlyphs" fill="#353535" stroke="#353535" stroke-width="0.14">Z = 1.84</text>
<text x="157.67" y="300.60" font-size="9.9" font-weight="normal" textLength="39.07" lengthAdjust="spacingAndGlyphs" fill="#353535" stroke="#353535" stroke-width="0.14">(P = 0.07)</text>
<text x="428.96" y="294.60" font-size="9.9" font-weight="normal" textLength="19.39" lengthAdjust="spacingAndGlyphs" fill="#353535" stroke="#353535" stroke-width="0.14">-100</text>
<text x="459.16" y="294.60" font-size="9.9" font-weight="normal" textLength="14.19" lengthAdjust="spacingAndGlyphs" fill="#353535" stroke="#353535" stroke-width="0.14">-50</text>
<text x="500.67" y="294.60" font-size="9.9" font-weight="normal" textLength="4.63" lengthAdjust="spacingAndGlyphs" fill="#353535" stroke="#353535" stroke-width="0.14">0</text>
<text x="534.65" y="294.60" font-size="9.9" font-weight="normal" textLength="9.67" lengthAdjust="spacingAndGlyphs" fill="#353535" stroke="#353535" stroke-width="0.14">50</text>
<text x="560.28" y="294.60" font-size="9.9" font-weight="normal" textLength="16.10" lengthAdjust="spacingAndGlyphs" fill="#353535" stroke="#353535" stroke-width="0.14">100</text>
<text x="432.88" y="305.60" font-size="9.9" font-weight="normal" textLength="67.13" lengthAdjust="spacingAndGlyphs" fill="#353535" stroke="#353535" stroke-width="0.14">Favours [control]</text>
<text x="506.29" y="305.60" font-size="9.9" font-weight="normal" textLength="65.33" lengthAdjust="spacingAndGlyphs" fill="#353535" stroke="#353535" stroke-width="0.14">Favours [FGF-2]</text>
<line x1="29.00" y1="229.40" x2="681.60" y2="229.40" stroke="#383838" stroke-width="1.05"/>
<line x1="503.20" y1="229.40" x2="503.20" y2="283.40" stroke="#6c6c6c" stroke-width="1.15"/>
<line x1="430.00" y1="283.40" x2="577.40" y2="283.40" stroke="#2a2a2a" stroke-width="1.15"/>
<line x1="429.90" y1="280.40" x2="429.90" y2="286.40" stroke="#2a2a2a" stroke-width="1.15"/>
<line x1="466.55" y1="280.40" x2="466.55" y2="286.40" stroke="#2a2a2a" stroke-width="1.15"/>
<line x1="503.20" y1="280.40" x2="503.20" y2="286.40" stroke="#2a2a2a" stroke-width="1.15"/>
<line x1="539.85" y1="280.40" x2="539.85" y2="286.40" stroke="#2a2a2a" stroke-width="1.15"/>
<line x1="576.50" y1="280.40" x2="576.50" y2="286.40" stroke="#2a2a2a" stroke-width="1.15"/>
<line x1="494.93" y1="235.50" x2="524.08" y2="235.50" stroke="#444" stroke-width="1.1"/>
<rect x="506.45" y="232.45" width="6.10" height="6.10" fill="#00c800"/>
<line x1="519.36" y1="247.50" x2="535.40" y2="247.50" stroke="#444" stroke-width="1.1"/>
<rect x="523.38" y="243.50" width="8.00" height="8.00" fill="#00c800"/>
<polygon points="502.32,271.00 519.52,266.10 535.89,271.00 519.52,275.90" fill="#000"/>
<circle cx="589.20" cy="236.00" r="5.00" fill="#14c414"/>
<path d="M587.20,236.00H591.20M589.20,234.20V237.80" stroke="#000" stroke-width="1.2"/>
<circle cx="600.95" cy="236.00" r="5.00" fill="#14c414"/>
<path d="M598.95,236.00H602.95M600.95,234.20V237.80" stroke="#000" stroke-width="1.2"/>
<circle cx="612.70" cy="236.00" r="5.00" fill="#14c414"/>
<path d="M610.70,236.00H614.70M612.70,234.20V237.80" stroke="#000" stroke-width="1.2"/>
<circle cx="624.45" cy="236.00" r="5.00" fill="#14c414"/>
<path d="M622.45,236.00H626.45M624.45,234.20V237.80" stroke="#000" stroke-width="1.2"/>
<circle cx="636.20" cy="236.00" r="5.00" fill="#e8dc2c"/>
<text x="636.20" y="239.40" font-size="9.5" font-weight="bold" text-anchor="middle" fill="#000" stroke="#000" stroke-width="0.2">?</text>
<circle cx="647.95" cy="236.00" r="5.00" fill="#e8dc2c"/>
<text x="647.95" y="239.40" font-size="9.5" font-weight="bold" text-anchor="middle" fill="#000" stroke="#000" stroke-width="0.2">?</text>
<circle cx="659.70" cy="236.00" r="5.00" fill="#e8dc2c"/>
<text x="659.70" y="239.40" font-size="9.5" font-weight="bold" text-anchor="middle" fill="#000" stroke="#000" stroke-width="0.2">?</text>
<circle cx="589.20" cy="248.00" r="5.00" fill="#14c414"/>
<path d="M587.20,248.00H591.20M589.20,246.20V249.80" stroke="#000" stroke-width="1.2"/>
<circle cx="600.95" cy="248.00" r="5.00" fill="#14c414"/>
<path d="M598.95,248.00H602.95M600.95,246.20V249.80" stroke="#000" stroke-width="1.2"/>
<circle cx="612.70" cy="248.00" r="5.00" fill="#14c414"/>
<path d="M610.70,248.00H614.70M612.70,246.20V249.80" stroke="#000" stroke-width="1.2"/>
<circle cx="624.45" cy="248.00" r="5.00" fill="#14c414"/>
<path d="M622.45,248.00H626.45M624.45,246.20V249.80" stroke="#000" stroke-width="1.2"/>
<circle cx="636.20" cy="248.00" r="5.00" fill="#14c414"/>
<path d="M634.20,248.00H638.20M636.20,246.20V249.80" stroke="#000" stroke-width="1.2"/>
<circle cx="647.95" cy="248.00" r="5.00" fill="#e8dc2c"/>
<text x="647.95" y="251.40" font-size="9.5" font-weight="bold" text-anchor="middle" fill="#000" stroke="#000" stroke-width="0.2">?</text>
<circle cx="659.70" cy="248.00" r="5.00" fill="#e8dc2c"/>
<text x="659.70" y="251.40" font-size="9.5" font-weight="bold" text-anchor="middle" fill="#000" stroke="#000" stroke-width="0.2">?</text>
<text x="589.20" y="227.60" font-size="9" font-weight="bold" text-anchor="middle" textLength="5.52" lengthAdjust="spacingAndGlyphs" fill="#262626" stroke="#262626" stroke-width="0.3">A</text>
<text x="600.95" y="227.60" font-size="9" font-weight="bold" text-anchor="middle" textLength="5.52" lengthAdjust="spacingAndGlyphs" fill="#262626" stroke="#262626" stroke-width="0.3">B</text>
<text x="612.70" y="227.60" font-size="9" font-weight="bold" text-anchor="middle" textLength="5.52" lengthAdjust="spacingAndGlyphs" fill="#262626" stroke="#262626" stroke-width="0.3">C</text>
<text x="624.45" y="227.60" font-size="9" font-weight="bold" text-anchor="middle" textLength="5.52" lengthAdjust="spacingAndGlyphs" fill="#262626" stroke="#262626" stroke-width="0.3">D</text>
<text x="636.20" y="227.60" font-size="9" font-weight="bold" text-anchor="middle" textLength="5.10" lengthAdjust="spacingAndGlyphs" fill="#262626" stroke="#262626" stroke-width="0.3">E</text>
<text x="647.95" y="227.60" font-size="9" font-weight="bold" text-anchor="middle" textLength="4.67" lengthAdjust="spacingAndGlyphs" fill="#262626" stroke="#262626" stroke-width="0.3">F</text>
<text x="659.70" y="227.60" font-size="9" font-weight="bold" text-anchor="middle" textLength="5.95" lengthAdjust="spacingAndGlyphs" fill="#262626" stroke="#262626" stroke-width="0.3">G</text>
</svg>
</body></html>
